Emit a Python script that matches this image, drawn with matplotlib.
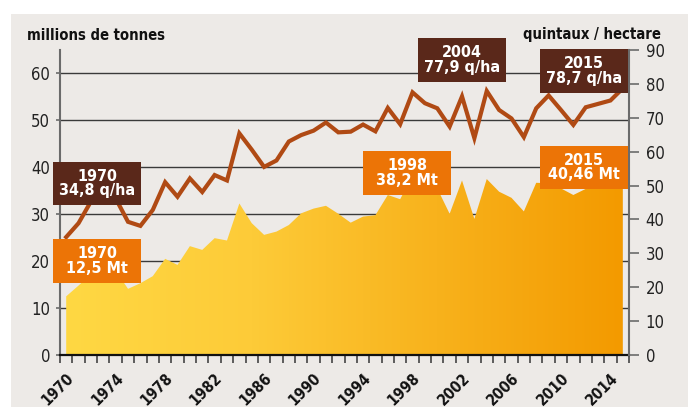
import matplotlib
matplotlib.use("Agg")
import matplotlib.pyplot as plt
import matplotlib.font_manager as fm
from matplotlib.patches import Rectangle
from matplotlib.colors import LinearSegmentedColormap
import numpy as np

# ---------------- data ----------------
years = list(range(1970, 2016))
production_mt = [12.5, 14.8, 17.3, 16.9, 18.0, 14.1, 15.3, 16.8, 20.5, 19.2,
                 23.2, 22.4, 24.9, 24.4, 32.3, 28.1, 25.6, 26.3, 27.7, 30.2,
                 31.2, 31.8, 30.1, 28.2, 29.5, 29.8, 34.1, 33.2, 38.2, 35.3,
                 35.5, 30.1, 37.2, 29.0, 37.5, 34.8, 33.5, 30.6, 36.7, 36.6,
                 35.5, 34.1, 35.4, 36.9, 37.5, 40.46]
yield_qha = [34.8, 38.9, 45.3, 45.5, 46.2, 39.3, 38.1, 42.8, 51.0, 46.7,
             52.1, 48.1, 53.1, 51.5, 65.4, 60.6, 55.5, 57.4, 63.0, 64.9,
             66.2, 68.6, 65.7, 65.9, 68.0, 66.0, 72.9, 68.1, 77.5, 74.3,
             72.8, 67.4, 76.3, 64.0, 77.9, 72.3, 69.8, 64.3, 72.8, 76.6,
             72.3, 67.9, 73.1, 74.1, 75.1, 78.7]
xtick_years = list(range(1970, 2015, 4))
left_ticks = list(range(0, 61, 10))
right_ticks = list(range(0, 91, 10))

# annotation boxes: (text, colour, x0, x1, y0, y1) in right-axis data units
annotations = [
    ("1970\n34,8 q/ha", "#5A281A", 1968.93, 1976.06, 44.26, 56.95),
    ("1970\n12,5 Mt",   "#EC7406", 1968.93, 1976.06, 21.33, 34.14),
    ("1998\n38,2 Mt",   "#EC7406", 1994.00, 2001.13, 47.20, 60.20),
    ("2015\n40,46 Mt",  "#EC7406", 2008.28, 2015.38, 48.90, 61.70),
    ("2004\n77,9 q/ha", "#5A281A", 1998.43, 2005.53, 80.60, 93.40),
    ("2015\n78,7 q/ha", "#5A281A", 2008.28, 2015.40, 77.40, 90.30),
]

# ---------------- fonts ----------------
names = {f.name for f in fm.fontManager.ttflist}
cond = [f for f in fm.fontManager.ttflist if f.name == "DejaVu Sans" and f.stretch == "condensed"]
if "Liberation Sans Narrow" in names:
    box_font = dict(family="Liberation Sans Narrow", fontsize=13.5)
else:
    box_font = dict(family="DejaVu Sans", fontstretch="condensed", fontsize=11.5)
base_font = dict(family="DejaVu Sans")
if cond:
    base_font["fontstretch"] = "condensed"

W, H = 688, 407
fig = plt.figure(figsize=(W / 100, H / 100), dpi=100, facecolor="white")
fig.patches.append(Rectangle((11 / W, -0.05), 1.05 - 11 / W, 0.05 + (H - 14) / H,
                             transform=fig.transFigure, facecolor="#EDEAE7",
                             edgecolor="none", zorder=-10))

ax = fig.add_axes([60 / W, 52 / H, 569 / W, 305 / H])
ax.patch.set_alpha(0)
ax2 = ax.twinx()
ax2.patch.set_alpha(0)

x = np.array(years, dtype=float)
p = np.array(production_mt)

ax.set_xlim(1969.5, 2015.5)
ax.set_ylim(0, 65)
ax2.set_ylim(0, 90)

# grid
ax.set_axisbelow(True)
ax.yaxis.grid(True, color="#3a3a3a", linewidth=1.0)
ax.xaxis.grid(False)

# gradient area
poly = ax.fill_between(x, 0, p, facecolor="none", edgecolor="none", zorder=2)
cmap = LinearSegmentedColormap.from_list("g", ["#FFD843", "#FDCB38", "#F8B21C", "#F39A00"])
grad = np.linspace(0, 1, 256).reshape(1, -1)
im = ax.imshow(grad, cmap=cmap, aspect="auto", extent=[x[0], x[-1], 0, 65],
               origin="lower", zorder=2)
path = poly.get_paths()[0]
im.set_clip_path(path, transform=ax.transData)
ax.set_xlim(1969.5, 2015.5)
ax.set_ylim(0, 65)

# yield line
ax2.plot(x, yield_qha, color="#B04A14", linewidth=3.0, solid_joinstyle="miter", zorder=3)

# annotation boxes
for txt, col, x0, x1, y0, y1 in annotations:
    ax2.add_patch(Rectangle((x0, y0), x1 - x0, y1 - y0, facecolor=col,
                            edgecolor="none", zorder=5, clip_on=False))
    ax2.text((x0 + x1) / 2, (y0 + y1) / 2, txt, ha="center", va="center",
             color="white", fontweight="bold", linespacing=0.95, zorder=6,
             clip_on=False, **box_font)

# spines
for s in ["top"]:
    ax.spines[s].set_visible(False)
    ax2.spines[s].set_visible(False)
ax.spines["right"].set_visible(False)
ax2.spines["left"].set_visible(False)
ax2.spines["bottom"].set_visible(False)
ax.spines["left"].set_color("#6b6b6b")
ax.spines["left"].set_linewidth(1.5)
ax2.spines["right"].set_color("#6b6b6b")
ax2.spines["right"].set_linewidth(1.5)
ax.spines["bottom"].set_color("#111111")
ax.spines["bottom"].set_linewidth(1.6)
ax.spines["bottom"].set_zorder(4)

# y ticks
ax.set_yticks(left_ticks)
ax.set_yticklabels([str(v) for v in left_ticks], fontsize=12, color="#222222", **base_font)
ax.tick_params(axis="y", direction="out", length=3, width=1.2, color="#6b6b6b", pad=4)
ax2.set_yticks(right_ticks)
ax2.set_yticklabels([str(v) for v in right_ticks], fontsize=12, color="#222222", **base_font)
ax2.tick_params(axis="y", direction="out", length=7, width=1.2, color="#6b6b6b", pad=5)

# x ticks
ax.set_xticks(xtick_years)
ax.set_xticklabels([str(v) for v in xtick_years], rotation=45, ha="right",
                   rotation_mode="anchor", fontsize=11, fontweight="bold",
                   color="#111111", **base_font)
ax.set_xticks(np.arange(1969.5, 2016, 1.0), minor=True)
ax.tick_params(axis="x", which="major", length=0, pad=11)
ax.tick_params(axis="x", which="minor", direction="out", length=6, width=1.2, color="#444444")
ax2.tick_params(axis="x", which="both", length=0, labelbottom=False)

# axis titles
fig.text(27 / W, (H - 40) / H, "millions de tonnes", ha="left", va="baseline",
         fontsize=10.6, fontweight="bold", color="#111111", **base_font)
fig.text(661 / W, (H - 39) / H, "quintaux / hectare", ha="right", va="baseline",
         fontsize=10.6, fontweight="bold", color="#111111", **base_font)

fig.savefig("out.png", dpi=100, facecolor="white")
